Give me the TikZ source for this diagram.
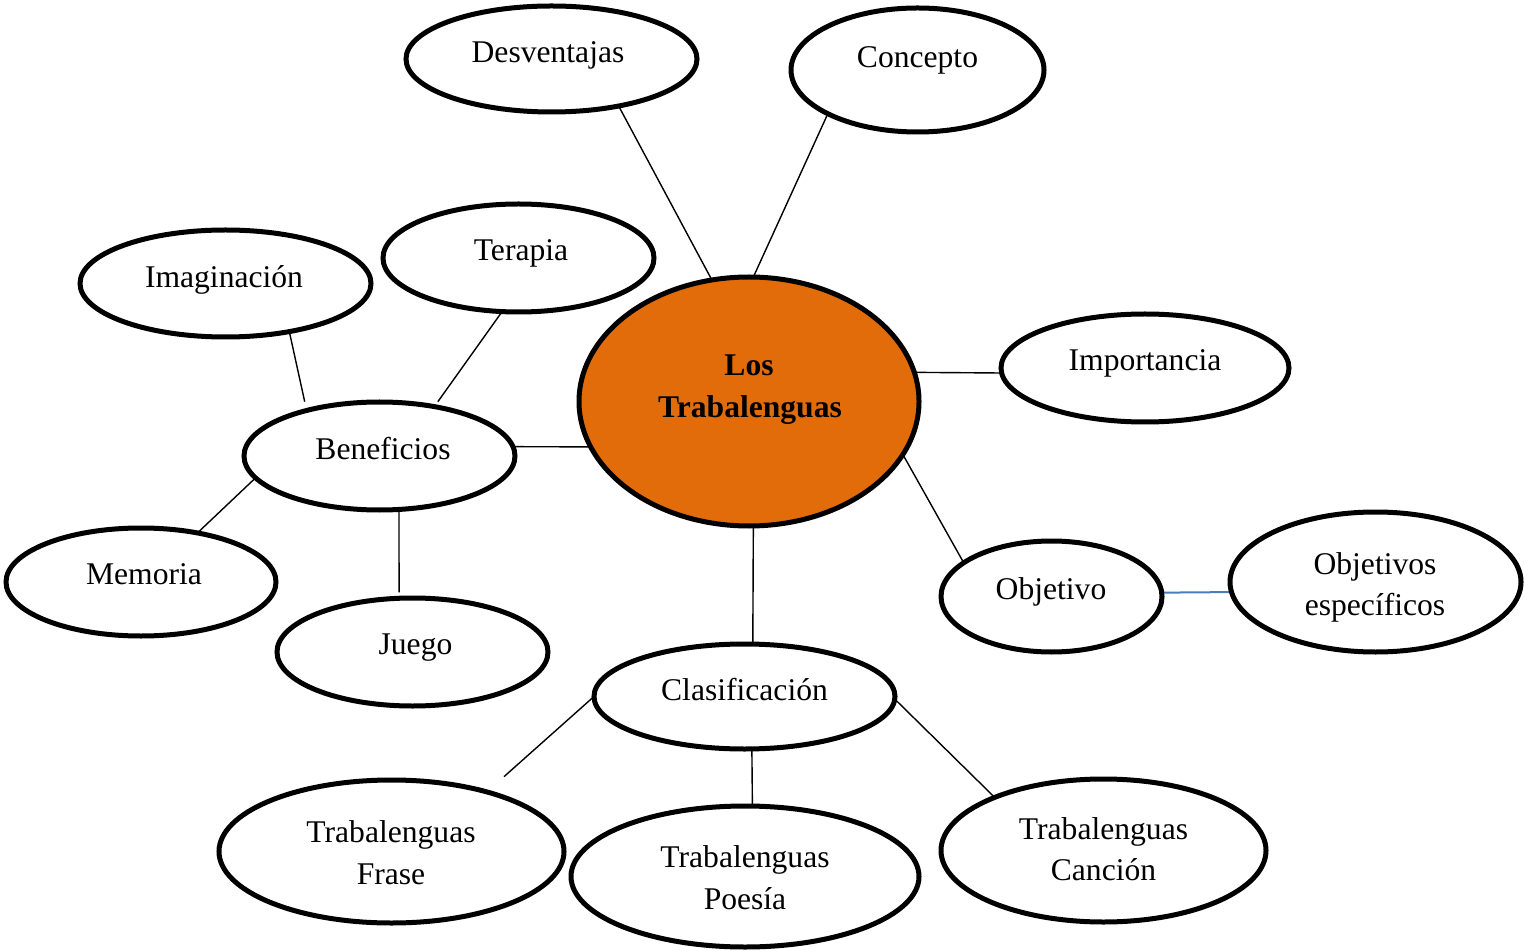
\documentclass[tikz,border=0pt]{standalone}
\usepackage{fontspec}
\setmainfont{Liberation Serif}
\usetikzlibrary{shapes.geometric,backgrounds}
\definecolor{mainorange}{RGB}{227,108,10}
\definecolor{linkblue}{RGB}{74,126,187}
\begin{document}
\begin{tikzpicture}[x=0.5pt,y=-0.5pt,
  bub/.style={ellipse,draw=black,line width=2.5pt,fill=white,inner sep=0pt,outer sep=0pt},
  txt/.style={inner sep=0pt,anchor=base,font=\fontsize{15.8}{20}\selectfont},
  btxt/.style={txt,font=\fontsize{15.8}{20}\selectfont\bfseries},
  link/.style={draw=black,line width=0.7pt},
  bluelink/.style={draw=linkblue,line width=1pt}]
\useasboundingbox (0,0) rectangle (1524,951);
% ellipses
\node[bub,minimum width=145.5pt,minimum height=53pt] (des) at (551.5,59) {};
\node[bub,minimum width=126.5pt,minimum height=62pt] (con) at (917.5,70) {};
\node[bub,minimum width=145.5pt,minimum height=53.5pt] (ima) at (225.5,283.5) {};
\node[bub,minimum width=135.5pt,minimum height=54pt] (ter) at (518.5,258) {};
\node[bub,fill=mainorange,minimum width=170pt,minimum height=124.5pt] (main) at (749,401.5) {};
\node[bub,minimum width=144pt,minimum height=54pt] (imp) at (1145,368) {};
\node[bub,minimum width=135.5pt,minimum height=54pt] (ben) at (379.5,456) {};
\node[bub,minimum width=135pt,minimum height=54pt] (mem) at (141,582) {};
\node[bub,minimum width=135.5pt,minimum height=54pt] (jue) at (412.5,652) {};
\node[bub,minimum width=110.5pt,minimum height=55.5pt] (obj) at (1051.5,596.5) {};
\node[bub,minimum width=145.5pt,minimum height=70pt] (oes) at (1375.5,582) {};
\node[bub,minimum width=150.5pt,minimum height=52.5pt] (cla) at (744.5,696.5) {};
\node[bub,minimum width=172.5pt,minimum height=71.5pt] (fra) at (391.5,851.5) {};
\node[bub,minimum width=174pt,minimum height=70.5pt] (poe) at (745,876.5) {};
\node[bub,minimum width=162.5pt,minimum height=71.5pt] (can) at (1103.5,850.5) {};
% texts
\node[txt] (desT) at (548,62.5) {Desventajas};
\node[txt] (conT) at (917.5,68) {Concepto};
\node[txt] (imaT) at (224,287.5) {Imaginación};
\node[txt] (terT) at (521,261) {Terapia};
\node[btxt] (mainA) at (749,376) {Los};
\node[btxt] (mainB) at (750,418) {Trabalenguas};
\node[txt] (impT) at (1145,371) {Importancia};
\node[txt] (benT) at (383,459) {Beneficios};
\node[txt] (memT) at (144,584.5) {Memoria};
\node[txt] (jueT) at (415.5,654.5) {Juego};
\node[txt] (objT) at (1051,599) {Objetivo};
\node[txt] (oesA) at (1375,574) {Objetivos};
\node[txt] (oesB) at (1375,615.5) {específicos};
\node[txt] (claT) at (744.5,700) {Clasificación};
\node[txt] (fraA) at (391,842) {Trabalenguas};
\node[txt] (fraB) at (391,884) {Frase};
\node[txt] (poeA) at (745,867.5) {Trabalenguas};
\node[txt] (poeB) at (745,909) {Poesía};
\node[txt] (canA) at (1103.5,839.5) {Trabalenguas};
\node[txt] (canB) at (1103.5,880) {Canción};
% connectors
\begin{scope}[on background layer]
\draw[link] (des.325) -- (main.107);
\draw[link] (con.206) -- (main.88);
\draw[link,shorten >=3pt] (ter.253) -- (ben.42);
\draw[link,shorten >=4.5pt] (ima.323) -- (ben.148);
\draw[link] (ben.4) -- (main.196);
\draw[link] (mem.41) -- (ben.190);
\draw[link,shorten >=3pt] (ben.290) -- (jue.104);
\draw[link] (main.10) -- (imp.182);
\draw[link] (main.341) -- (obj.159);
\draw[bluelink] (obj.2) -- (oes.184);
\draw[link] (main.272) -- (cla.81);
\draw[link,shorten >=11.5pt] (cla.180) -- (fra.32);
\draw[link] (cla.278) -- (poe.84);
\draw[link] (cla.359) -- (can.154);
\end{scope}
\end{tikzpicture}
\end{document}
